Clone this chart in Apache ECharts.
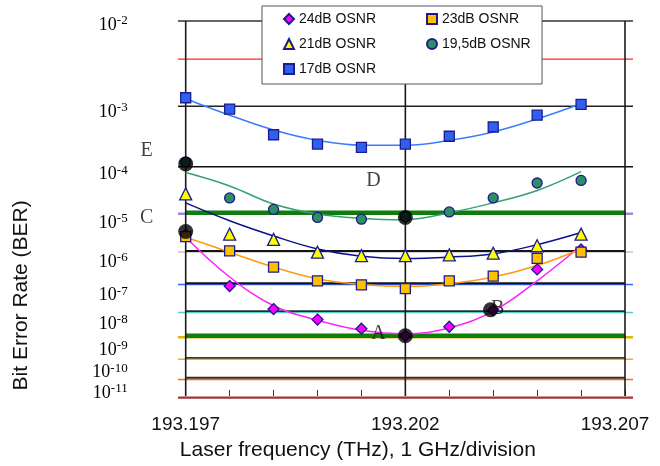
<!DOCTYPE html>
<html>
<head>
<meta charset="utf-8">
<script src="https://cdn.jsdelivr.net/npm/echarts@6/dist/echarts.min.js"></script>
<style>
  html, body { margin: 0; padding: 0; background: #fff; }
  #chart { width: 660px; height: 466px; }
</style>
</head>
<body>
<div id="chart"></div>
<script>
// Laser frequency of each measurement (THz)
const frequencies = [193.197, 193.198, 193.199, 193.200, 193.201, 193.202, 193.203, 193.204, 193.205, 193.206];

// Measured BER per OSNR
const ber24 = [2.8e-6, 8.0e-8, 1.2e-8, 4.7e-9, 2.0e-9, 1.0e-9, 2.4e-9, 1.1e-8, 2.8e-7, 1.1e-6];
const ber23 = [2.5e-6, 1.0e-6, 3.3e-7, 1.2e-7, 8.8e-8, 6.5e-8, 1.2e-7, 1.7e-7, 6.1e-7, 9.2e-7];
const ber21 = [2.7e-5, 2.9e-6, 2.1e-6, 9.2e-7, 7.3e-7, 7.3e-7, 7.7e-7, 8.6e-7, 1.4e-6, 2.9e-6];
const ber195 = [1.2e-4, 2.2e-5, 1.2e-5, 7.7e-6, 7.0e-6, 7.9e-6, 1.05e-5, 2.2e-5, 4.6e-5, 5.2e-5];
const ber17 = [1.3e-3, 9.0e-4, 3.6e-4, 2.5e-4, 2.2e-4, 2.5e-4, 3.4e-4, 4.8e-4, 7.3e-4, 1.05e-3];

// Trend curves through each measurement set
const fit24 = [2.4e-6, 1.6e-7, 1.6e-8, 4.4e-9, 1.7e-9, 1.2e-9, 2.2e-9, 1.0e-8, 1.2e-7, 1.4e-6];
const fit23 = [2.4e-6, 9.2e-7, 3.3e-7, 1.4e-7, 9.0e-8, 7.7e-8, 9.6e-8, 1.6e-7, 3.7e-7, 1.14e-6];
const fit21 = [1.7e-5, 6.4e-6, 2.6e-6, 1.14e-6, 7.0e-7, 6.0e-7, 6.6e-7, 8.2e-7, 1.5e-6, 3.2e-6];
const fit195 = [7.5e-5, 4.0e-5, 1.6e-5, 9.3e-6, 7.3e-6, 6.8e-6, 1.0e-5, 1.7e-5, 3.2e-5, 7.8e-5];
const fit17 = [1.26e-3, 7.3e-4, 4.3e-4, 2.9e-4, 2.4e-4, 2.4e-4, 2.9e-4, 4.0e-4, 6.4e-4, 1.07e-3];

// Series names
const seriesNames = ['24dB OSNR', '23dB OSNR', '21dB OSNR', '19,5dB OSNR', '17dB OSNR'];

// Operating points A..E
const pointNames = ['E', 'C', 'D', 'A', 'B'];
const pointFreqs = [193.197, 193.197, 193.202, 193.202, 193.20394];
const pointBer = [1.1e-4, 3.4e-6, 7.7e-6, 1.0e-9, 1.13e-8];

// Horizontal BER reference levels
const refLevels = [1e-2, 4e-3, 1e-3, 1e-4, 1e-5, 1e-6, 1e-7, 1e-8, 1e-9, 1e-10, 1e-11, 1e-12];
// Levels redrawn across the plot body only
const bodyLevels = [1e-5, 1e-6, 1e-7, 1e-8, 1e-9, 1e-10, 1e-11];

// Tick labels
const yTickExponents = [-2, -3, -4, -5, -6, -7, -8, -9, -10, -11];
const xTickLabels = ['193.197', '193.202', '193.207'];
const verticalFreqs = [193.197, 193.202, 193.207];
const xMin = 193.197;
const xMax = 193.207;

// ---- styles ----
const refColors = ['#333333', '#ff2525', '#222222', '#111111', '#9c88d8', '#c4c4c4', '#3463ff',
                   '#5ec9c9', '#e0b400', '#ffa424', '#ff6a10', '#a03434'];
const refWidths = [1.5, 1.3, 1.5, 1.5, 2.5, 1.5, 1.5, 1.5, 2.5, 1.5, 1.5, 2.2];
const bodyColors = ['#0e7d0e', '#151515', '#151515', '#1e3434', '#0e7d0e', '#4a3418', '#40281a'];
const bodyWidths = [4.5, 1.9, 1.9, 1.9, 4.5, 1.9, 1.9];
const markerColors = ['#ff00ff', '#ffc000', '#ffff00', '#2f8f62', '#3060f0'];
const markerSymbols = ['diamond', 'rect', 'triangle', 'circle', 'rect'];
const markerSizes = [11, 10, 12, 10, 10];
const fitColors = ['#ff22ff', '#ff9a10', '#10108a', '#36a072', '#3a7cff'];
const pointLabelOffsets = [[-39, -13], [-39, -14], [-32, -37], [-27, -2], [7, -1]];

// BER is drawn on a log(-log(BER)) scale
function toScale(ber) { return Math.log10(-Math.log10(ber)); }
const pairs = (xs, ys) => xs.map((x, i) => [x, toScale(ys[i])]);

const yMin = toScale(1e-2);
const yMax = toScale(1e-12);
// tick labels sit on a slightly stretched copy of the BER scale
const labelScaleMin = 0.2932;
const labelScaleMax = 1.0468;

const measured = [ber24, ber23, ber21, ber195, ber17];
const fitted = [fit24, fit23, fit21, fit195, fit17];

const series = [];

function rule(xIdx, pts, color, width, z) {
  return {
    type: 'line', xAxisIndex: xIdx, yAxisIndex: xIdx, data: pts,
    symbol: 'none', showSymbol: false, silent: true, clip: false, z: z,
    lineStyle: { color: color, width: width, type: 'solid', cap: 'butt' },
    animation: false
  };
}

// reference levels over the full frame width
refLevels.forEach((b, i) => {
  const t = toScale(b);
  series.push(rule(1, [[0, t], [1, t]], refColors[i], refWidths[i], 1));
});

// body lines inside the plot area
bodyLevels.forEach((b, i) => {
  const t = toScale(b);
  series.push(rule(0, [[xMin, t], [xMax, t]], bodyColors[i], bodyWidths[i], 2));
});

// vertical division lines
verticalFreqs.forEach(f => {
  series.push(rule(0, [[f, yMin], [f, yMax]], '#1a1a1a', 1.6, 2));
});

// trend curves
fitted.forEach((arr, i) => {
  series.push({
    name: seriesNames[i] + ' trend',
    type: 'line', xAxisIndex: 0, yAxisIndex: 0, z: 3,
    data: pairs(frequencies, arr),
    smooth: 0.4, showSymbol: false, symbol: 'none', silent: true,
    lineStyle: { color: fitColors[i], width: 1.5 },
    animation: false
  });
});

// measurements
measured.forEach((arr, i) => {
  series.push({
    name: seriesNames[i],
    type: 'scatter', xAxisIndex: 0, yAxisIndex: 0, z: 4,
    data: pairs(frequencies, arr),
    symbol: markerSymbols[i], symbolSize: markerSizes[i],
    itemStyle: { color: markerColors[i], borderColor: '#1c1c8c', borderWidth: 1.3, opacity: 1 },
    animation: false
  });
});

// operating points
series.push({
  name: 'points',
  type: 'scatter', xAxisIndex: 0, yAxisIndex: 0, z: 6,
  data: pointNames.map((n, i) => ({
    name: n,
    value: [pointFreqs[i], toScale(pointBer[i])],
    label: { offset: pointLabelOffsets[i] }
  })),
  symbol: 'circle', symbolSize: 15,
  itemStyle: { color: '#000' },
  label: {
    show: true, position: 'inside', formatter: p => p.name,
    fontFamily: 'Liberation Serif', fontSize: 20, color: '#111'
  },
  clip: false,
  animation: false
});

const chart = echarts.init(document.getElementById('chart'), null, { renderer: 'canvas' });

chart.setOption({
  animation: false,
  backgroundColor: '#fff',
  grid: [
    { left: 185.7, right: 35, top: 21, bottom: 68.3 },
    { left: 178, right: 27, top: 21, bottom: 68.3 }
  ],
  xAxis: [
    {
      gridIndex: 0, type: 'value', min: xMin, max: xMax, interval: 0.001,
      axisLine: { show: false },
      axisTick: { show: true, inside: true, length: 6, lineStyle: { color: '#333', width: 1 } },
      splitLine: { show: false },
      axisLabel: {
        margin: 19, color: '#111', fontFamily: 'Liberation Sans', fontSize: 19,
        formatter: v => {
          const s = v.toFixed(3);
          const k = xTickLabels.indexOf(s);
          if (k < 0) return '';
          return k === xTickLabels.length - 1 ? '{r|' + s + '}' : '{n|' + s + '}';
        },
        rich: {
          n: { fontFamily: 'Liberation Sans', fontSize: 19, color: '#111' },
          r: { fontFamily: 'Liberation Sans', fontSize: 19, color: '#111', padding: [0, 20, 0, 0] }
        }
      },
      name: 'Laser frequency (THz), 1 GHz/division',
      nameLocation: 'middle', nameGap: 44,
      nameTextStyle: { fontFamily: 'Liberation Sans', fontSize: 21, color: '#111', padding: [0, 95, 0, 0] }
    },
    { gridIndex: 1, type: 'value', min: 0, max: 1, show: false }
  ],
  yAxis: [
    { gridIndex: 0, type: 'value', inverse: true, min: yMin, max: yMax, show: false },
    {
      gridIndex: 1, type: 'value', inverse: true, min: yMin, max: yMax,
      axisLine: { show: false }, axisTick: { show: false }, axisLabel: { show: false },
      splitLine: { show: false },
      name: 'Bit Error Rate (BER)', nameLocation: 'middle', nameGap: 146, nameRotate: 90,
      nameTextStyle: { fontFamily: 'Liberation Sans', fontSize: 21, color: '#111', padding: [0, 172, 0, 0] }
    },
    {
      gridIndex: 0, type: 'value', inverse: true, min: labelScaleMin, max: labelScaleMax,
      position: 'left',
      axisLine: { show: false }, axisTick: { show: false }, splitLine: { show: false },
      axisLabel: {
        margin: 58,
        customValues: yTickExponents.map(e => toScale(Math.pow(10, e))),
        formatter: v => {
          const e = -Math.round(Math.pow(10, v));
          return '{b|10}{s|' + e + '}';
        },
        rich: {
          b: { fontFamily: 'Liberation Serif', fontSize: 18, color: '#000', lineHeight: 22, verticalAlign: 'middle' },
          s: { fontFamily: 'Liberation Serif', fontSize: 13, color: '#000', lineHeight: 12, verticalAlign: 'top' }
        }
      }
    }
  ],
  legend: [
    {
      data: [seriesNames[0], seriesNames[2], seriesNames[4]],
      orient: 'vertical', left: 262, top: 6,
      padding: [6, 166, 8, 21],
      itemGap: 11, itemWidth: 10, itemHeight: 10,
      selectedMode: false,
      backgroundColor: '#fff', borderColor: '#555', borderWidth: 1,
      textStyle: { fontFamily: 'Liberation Sans', fontSize: 14, color: '#111', lineHeight: 14 }
    },
    {
      data: [seriesNames[1], seriesNames[3]],
      orient: 'vertical', left: 426, top: 6,
      padding: [6, 4, 8, 0],
      itemGap: 11, itemWidth: 10, itemHeight: 10,
      selectedMode: false,
      textStyle: { fontFamily: 'Liberation Sans', fontSize: 14, color: '#111', lineHeight: 14 }
    }
  ],
  series: series
});
</script>
</body>
</html>
